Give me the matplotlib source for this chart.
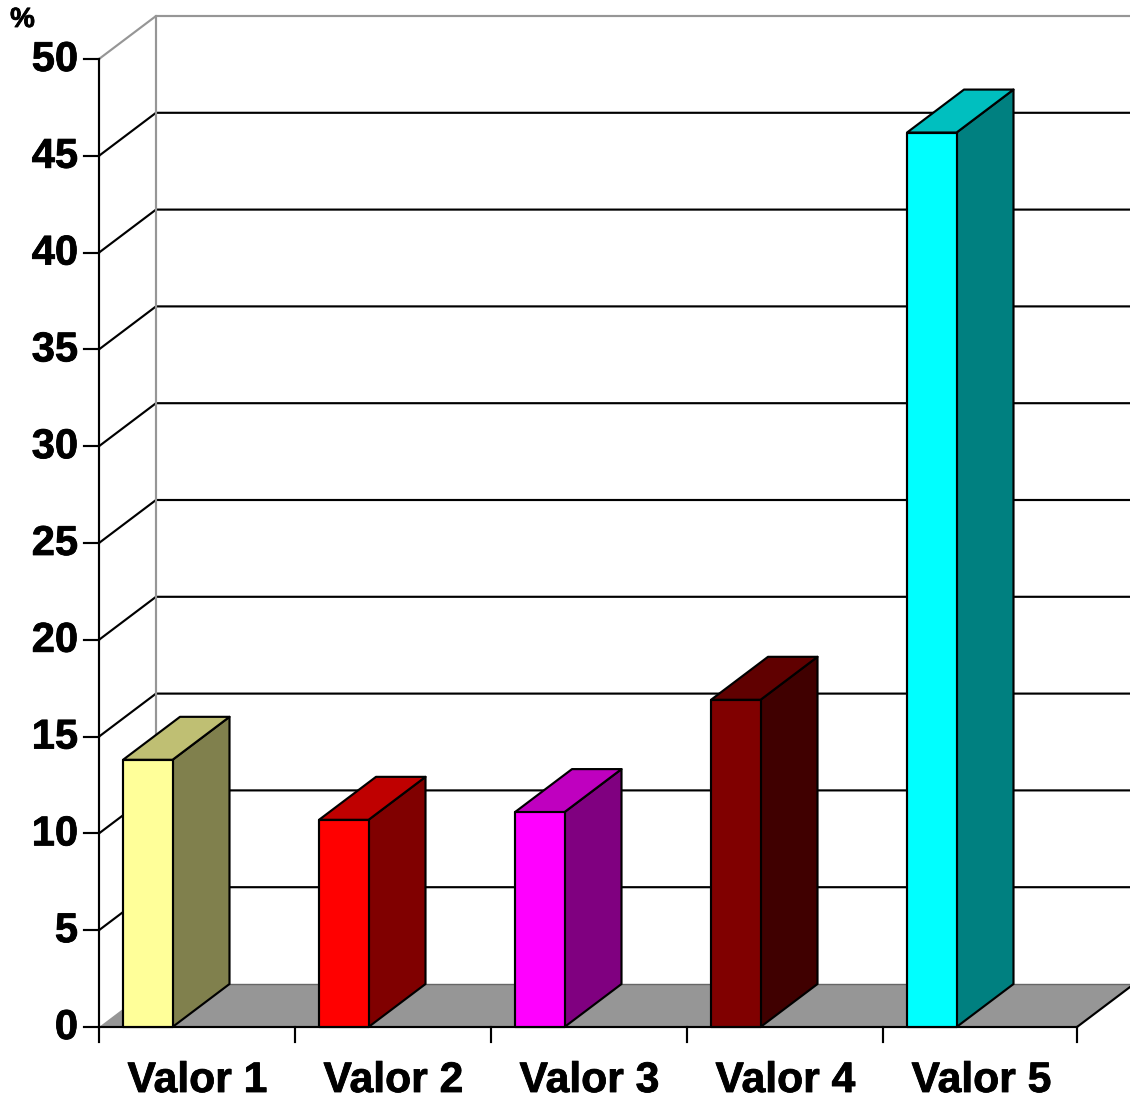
import matplotlib
matplotlib.use("Agg")
import matplotlib.pyplot as plt
import matplotlib.patheffects as pe
from matplotlib.patches import Polygon

plt.rcParams["font.family"] = ["Liberation Sans", "DejaVu Sans"]

categories = ["Valor 1", "Valor 2", "Valor 3", "Valor 4", "Valor 5"]
values = [13.8, 10.7, 11.1, 16.9, 46.2]
front_colors = ["#FFFF99", "#FF0000", "#FF00FF", "#800000", "#00FFFF"]
top_colors = ["#BFBF73", "#BF0000", "#BF00BF", "#600000", "#00BFBF"]
side_colors = ["#80804D", "#800000", "#800080", "#400000", "#008080"]
y_ticks = [0, 5, 10, 15, 20, 25, 30, 35, 40, 45, 50]

# pixel layout of the 3d box, everything else goes through data coords
W, H = 1130, 1101
x0_px, y0_px = 99, 1027
cat_px = 196
unit_px = 19.36
dx = 57 / cat_px
dy = 43 / unit_px
bar_off = 24 / cat_px
bar_w = 49.5 / cat_px
ymax = y_ticks[-1]
n = len(categories)
x_end = 978 / cat_px

fig = plt.figure(figsize=(W / 100, H / 100), dpi=100)
ax = fig.add_axes([0, 0, 1, 1])
ax.set_xlim(-x0_px / cat_px, (W - x0_px) / cat_px)
ax.set_ylim((y0_px - H) / unit_px, y0_px / unit_px)
ax.axis("off")

x_right = ax.get_xlim()[1] + 0.1
LW = 1.55
heavy = [pe.withStroke(linewidth=0.6, foreground="black")]

# back wall grid and side wall lines
for v in y_ticks[1:-1]:
    ax.plot([0, dx, x_right], [v, v + dy, v + dy], color="black", lw=LW, zorder=1)
ax.plot([0, dx, x_right], [ymax, ymax + dy, ymax + dy], color="#969696", lw=LW, zorder=1)
ax.plot([dx, dx], [dy, ymax + dy], color="#969696", lw=LW, zorder=1)

# floor
ax.add_patch(Polygon([(0, 0), (dx, dy), (x_end + dx, dy), (x_end, 0)], closed=True,
                     facecolor="#969696", edgecolor="none", zorder=2))
ax.plot([dx, x_right], [dy, dy], color="#666666", lw=1.0, zorder=2)
ax.plot([x_end, x_end + dx], [0, dy], color="black", lw=LW, zorder=3)

# front axis lines
ax.plot([0, 0], [0, ymax], color="black", lw=LW, zorder=3)
ax.plot([0, x_end], [0, 0], color="black", lw=LW, zorder=3)
for v in y_ticks:
    ax.plot([-15 / cat_px, 0], [v, v], color="black", lw=LW, zorder=3)
    ax.text(-21 / cat_px, v - 0.05, str(v), ha="right", va="center",
            fontsize=30, fontweight="bold", zorder=5, path_effects=heavy)
for t in list(range(n)) + [x_end]:
    ax.plot([t, t], [0, -15 / unit_px], color="black", lw=LW, zorder=3)

# bars
for i, (val, fc, tc, sc) in enumerate(zip(values, front_colors, top_colors, side_colors)):
    l = i + bar_off
    r = l + bar_w
    ax.add_patch(Polygon([(r, 0), (r + dx, dy), (r + dx, val + dy), (r, val)], closed=True,
                         facecolor=sc, edgecolor="black", lw=LW, joinstyle="round", zorder=4))
    ax.add_patch(Polygon([(l, val), (l + dx, val + dy), (r + dx, val + dy), (r, val)], closed=True,
                         facecolor=tc, edgecolor="black", lw=LW, joinstyle="round", zorder=4))
    ax.add_patch(Polygon([(l, 0), (r, 0), (r, val), (l, val)], closed=True,
                         facecolor=fc, edgecolor="black", lw=LW, joinstyle="round", zorder=4))
    ax.text(i + 0.5 + 0.002, -(1081 - y0_px) / unit_px, categories[i], ha="center", va="center",
            fontsize=30.7, fontweight="bold", zorder=5, path_effects=heavy)

ax.text(-(99 - 22.5) / cat_px, (y0_px - 20) / unit_px, "%", ha="center", va="center",
        fontsize=20, fontweight="bold", zorder=5, path_effects=heavy)

fig.savefig("out.png", dpi=100)
